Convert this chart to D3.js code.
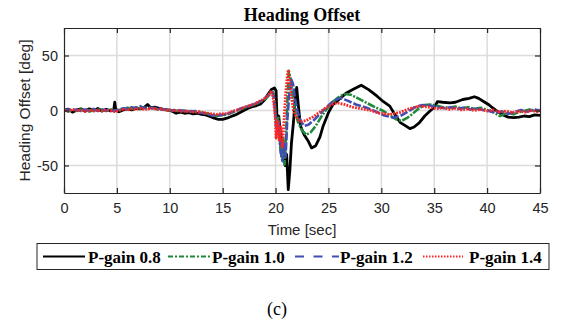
<!DOCTYPE html>
<html><head><meta charset="utf-8">
<script src="https://cdn.jsdelivr.net/npm/d3@7"></script>
<style>body{margin:0;background:#fff}</style>
</head><body><svg id="c" width="561" height="324"></svg>
<script>
const xTicks = [0,5,10,15,20,25,30,35,40,45];
const yTicks = [-50,0,50];
const seriesNames = ["P-gain 0.8","P-gain 1.0","P-gain 1.2","P-gain 1.4"];

const gain08 = [[0,0],[0.4,1.2],[0.8,-1.5],[1.2,0.5],[1.6,1.5],[2,-0.5],[2.4,1.5],[2.8,0],[3.2,1.8],[3.6,-0.5],[4,1],[4.4,-0.5],[4.7,0.5],[4.8,7.5],[4.9,0],[5.2,-1.2],[5.6,0.5],[6,1.5],[6.4,0.5],[6.8,2],[7.2,1.5],[7.6,3],[7.9,5.5],[8.2,2.5],[8.6,3],[9,2],[9.4,1],[9.8,0.5],[10.2,-0.5],[10.6,-2.5],[11,-1.5],[11.4,-2.5],[11.8,-2],[12.2,-3],[12.6,-2.5],[13,-3.5],[13.4,-4],[13.8,-5.5],[14.2,-7],[14.6,-8],[15,-8],[15.4,-7],[15.8,-5.5],[16.2,-4],[16.6,-2],[17,0],[17.4,2],[17.8,3.5],[18.2,4.5],[18.6,6],[19,10],[19.3,15],[19.6,19],[19.9,20.5],[20.05,18],[20.15,-10],[20.3,-5],[20.45,-20],[20.6,-35],[20.75,-30],[20.9,-50],[21.05,-40],[21.2,-72],[21.35,-55],[21.5,-30],[21.7,-10],[21.85,10],[22.0,21],[22.15,5],[22.35,-14],[22.7,-22],[23.1,-28],[23.4,-34],[23.8,-32],[24.2,-24],[24.5,-14],[25,-2],[25.4,5],[26,10],[26.7,16],[27.3,19],[28.1,23],[28.8,19],[29.6,13],[30.2,8],[30.8,4],[31.3,-4],[31.8,-11],[32.3,-14],[32.7,-16.5],[33.1,-15],[33.6,-11],[34.1,-5],[34.6,-0.5],[35,3],[35.3,8],[35.8,7.5],[36.5,7],[37,7.5],[37.7,10],[38.3,11],[38.8,12.5],[39.2,11],[39.7,8],[40.2,5],[40.5,2.5],[41,-1],[41.5,-4],[42,-6],[42.5,-6.5],[43,-6],[43.5,-5],[44,-5.5],[44.5,-4],[45,-4.5]];

const gain10 = [[0,0.5],[0.4,-1],[0.8,1],[1.2,-0.5],[1.6,1],[2,0],[2.4,-1],[2.8,0.5],[3.2,1],[3.6,0],[4,-0.5],[4.4,1],[4.8,0],[5.2,0.5],[5.6,1.5],[6,2.5],[6.4,1.5],[6.8,3],[7.2,2],[7.6,2.5],[8,1.5],[8.4,2.5],[8.8,1],[9.2,1.5],[9.6,0.5],[10,0],[10.4,0.5],[10.8,-0.5],[11.2,0],[11.6,-1],[12,-0.5],[12.4,-1],[12.8,-1.5],[13.2,-2],[13.6,-3],[14,-4],[14.4,-5],[14.8,-4.5],[15.2,-4],[15.6,-3],[16,-1.5],[16.4,0],[16.8,1.5],[17.2,3],[17.6,4],[18,5.5],[18.4,7],[18.8,9],[19.1,11],[19.4,14],[19.65,18],[19.8,16],[19.95,5],[20.1,-15],[20.25,-5],[20.4,-30],[20.55,-42],[20.7,-25],[20.85,-49],[21.0,-22],[21.12,10],[21.25,36],[21.4,30],[21.6,15],[21.8,2],[22.1,-10],[22.5,-18],[22.9,-22],[23.3,-20],[23.8,-14],[24.3,-6],[24.8,1],[25.3,7],[25.8,11],[26.3,14],[26.7,15],[27.2,14],[27.8,11],[28.6,7],[29.4,3],[30.2,-0.5],[30.9,-5],[31.4,-8],[31.9,-9.5],[32.4,-7],[32.9,-3.5],[33.5,1.5],[34.1,5],[34.6,5.5],[35.2,4.5],[35.8,3],[36.4,2.5],[37,3.5],[37.6,2],[38.2,3],[38.8,1.5],[39.4,2.5],[40,0.5],[40.6,-1.5],[41.2,-5],[41.6,-3.5],[42,-2],[42.5,-3.5],[43,-1.5],[43.5,-0.5],[44,1],[44.5,-0.5],[45,0.5]];

const gain12 = [[0,-0.5],[0.4,1],[0.8,0],[1.2,1],[1.6,-0.5],[2,1],[2.4,0],[2.8,1.5],[3.2,-0.5],[3.6,1],[4,0],[4.4,0.5],[4.8,-0.5],[5.2,1],[5.6,2],[6,1.5],[6.4,3],[6.8,2],[7.2,4],[7.6,2],[8,3],[8.4,2],[8.8,2.5],[9.2,1],[9.6,1],[10,0.5],[10.4,0],[10.8,0.5],[11.2,-0.5],[11.6,0],[12,-1],[12.4,-0.5],[12.8,-2],[13.2,-2.5],[13.6,-3.5],[14,-4.5],[14.4,-4.5],[14.8,-4],[15.2,-3.5],[15.6,-2.5],[16,-1],[16.4,0.5],[16.8,2],[17.2,3],[17.6,4.5],[18,6],[18.4,7.5],[18.8,9.5],[19.1,12],[19.4,15],[19.65,17],[19.8,14],[19.95,0],[20.1,-20],[20.3,-10],[20.5,-38],[20.65,-46],[20.8,-30],[20.95,-42],[21.1,-10],[21.3,15],[21.5,28],[21.65,24],[21.85,10],[22.1,-2],[22.4,-10],[22.7,-14],[23.1,-13],[23.6,-9],[24.2,-3],[24.8,3],[25.4,8],[26.1,11.5],[26.8,9],[27.6,5.5],[28.6,2.5],[29.5,-1],[30.3,-4.5],[31.1,-6.5],[31.8,-5],[32.5,-1],[33.2,3],[33.9,5],[34.6,4.5],[35.3,3],[36,2],[36.6,3],[37.2,1.5],[37.8,2.5],[38.4,1],[39,2],[39.6,0.5],[40.2,-0.5],[40.8,-2],[41.4,-1],[42,-3],[42.6,-1.5],[43.2,0.5],[43.8,-1],[44.4,1],[45,0]];

const gain14 = [[0,0],[0.4,-0.5],[0.8,1],[1.2,0],[1.6,0.5],[2,-1],[2.4,0.5],[2.8,-0.5],[3.2,0.5],[3.6,-0.5],[4,0.5],[4.4,0],[4.8,-1],[5.2,0],[5.6,1],[6,0.5],[6.4,1.5],[6.8,1],[7.2,2],[7.6,1],[8,1.5],[8.4,2],[8.8,1],[9.2,1.5],[9.6,0],[10,0.5],[10.4,-0.5],[10.8,0],[11.2,-1],[11.6,-0.5],[12,-1],[12.4,-1.5],[12.8,-1],[13.2,-2],[13.6,-2.5],[14,-3],[14.4,-3.5],[14.8,-3],[15.2,-3],[15.6,-2],[16,-0.5],[16.4,0.5],[16.8,2],[17.2,3.5],[17.6,4.5],[18,6],[18.4,8],[18.8,10],[19.1,12],[19.4,15],[19.6,18],[19.8,10],[19.95,-5],[20.05,-25],[20.2,-10],[20.35,-28],[20.5,-15],[20.65,-33],[20.8,-10],[20.95,15],[21.1,30],[21.2,37],[21.35,25],[21.5,12],[21.7,0],[21.9,-5],[22.2,-9],[22.5,-10],[22.9,-9],[23.5,-6],[24.1,-2],[24.7,2],[25.3,5.5],[25.8,7],[26.5,5.5],[27.3,3],[28.2,1.5],[29,0],[29.8,-2.5],[30.8,-3.5],[31.7,-2],[32.6,1.5],[33.6,4],[34.5,3],[35.2,1.5],[35.8,2.5],[36.4,1],[37,2],[37.6,0.5],[38.2,1.5],[38.8,0],[39.4,1],[40,-0.5],[40.6,0.5],[41.2,-1.5],[41.8,-0.5],[42.4,-2],[43,-0.5],[43.6,-1.5],[44.2,0],[44.8,-1],[45,0]];

const seriesData = [gain08, gain10, gain12, gain14];
const colors = ["#000000","#23883a","#3f4fb3","#ff2323"];
const plotDash = [null,"8,1.5,2,1.5","8,2","1.8,1.2"];
const plotWidth = [2.8,2.6,2.6,2.8];
const legendDash = [null,"5,2,2,2","9,9.5","1.5,1.5"];

const svg = d3.select("#c");
const L=64, R=540, T=28, B=193;
const x = d3.scaleLinear().domain([0,45]).range([L,R]);
const y = d3.scaleLinear().domain([-75,75]).range([B,T]);

svg.append("rect").attr("width",561).attr("height",324).attr("fill","#fff");

// grid
const g = svg.append("g");
g.selectAll(".gx").data(xTicks.slice(1,-1)).enter().append("line")
  .attr("x1",d=>x(d)).attr("x2",d=>x(d)).attr("y1",T).attr("y2",B)
  .attr("stroke","#dcdcdc").attr("stroke-width",1.5);
g.selectAll(".gy").data(yTicks).enter().append("line")
  .attr("x1",L).attr("x2",R).attr("y1",d=>y(d)).attr("y2",d=>y(d))
  .attr("stroke","#dcdcdc").attr("stroke-width",1.5);

// data
svg.append("clipPath").attr("id","clip").append("rect")
  .attr("x",L).attr("y",T).attr("width",R-L).attr("height",B-T);
const line = d3.line().x(d=>x(d[0])).y(d=>y(d[1]));
const pg = svg.append("g").attr("clip-path","url(#clip)");
seriesData.forEach((s,i)=>{
  pg.append("path").attr("d",line(s)).attr("fill","none")
    .attr("stroke",colors[i]).attr("stroke-width",plotWidth[i])
    .attr("stroke-linejoin","round")
    .attr("stroke-dasharray",plotDash[i]);
});

// axes
const axisColor="#262626";
const fmt = d=>String(d);
function styleAxis(sel){
  sel.select(".domain").attr("stroke",axisColor).attr("stroke-width",1.2);
  sel.selectAll(".tick line").attr("stroke",axisColor).attr("stroke-width",1.2);
  sel.selectAll(".tick text").attr("fill","#262626")
    .style("font-family","Liberation Sans, Arial, sans-serif").style("font-size","14.5px");
}
svg.append("g").attr("transform",`translate(0,${B})`)
  .call(d3.axisBottom(x).tickValues(xTicks).tickFormat(fmt).tickSizeInner(-5).tickSizeOuter(0).tickPadding(10))
  .call(styleAxis);
svg.append("g").attr("transform",`translate(0,${T})`)
  .call(d3.axisTop(x).tickValues(xTicks).tickSizeInner(-5).tickSizeOuter(0).tickFormat(""))
  .call(styleAxis);
svg.append("g").attr("transform",`translate(${L},0)`)
  .call(d3.axisLeft(y).tickValues(yTicks).tickFormat(fmt).tickSizeInner(-5).tickSizeOuter(0).tickPadding(6))
  .call(styleAxis);
svg.append("g").attr("transform",`translate(${R},0)`)
  .call(d3.axisRight(y).tickValues(yTicks).tickSizeInner(-5).tickSizeOuter(0).tickFormat(""))
  .call(styleAxis);

// labels
svg.append("text").attr("x",(L+R)/2).attr("y",21).attr("text-anchor","middle")
  .style("font-family","Liberation Serif, Times New Roman, serif").style("font-weight","bold")
  .style("font-size","18px").attr("fill","#000").text("Heading Offset");
svg.append("text").attr("x",(L+R)/2).attr("y",235).attr("text-anchor","middle")
  .style("font-family","Liberation Sans, Arial, sans-serif").style("font-size","15px")
  .attr("fill","#262626").text("Time [sec]");
svg.append("text").attr("transform",`translate(30,${(T+B)/2}) rotate(-90)`).attr("text-anchor","middle")
  .style("font-family","Liberation Sans, Arial, sans-serif").style("font-size","15.5px")
  .attr("fill","#262626").text("Heading Offset [deg]");

// legend
svg.append("rect").attr("x",37).attr("y",243.5).attr("width",512).attr("height",26)
  .attr("fill","#fff").attr("stroke","#262626").attr("stroke-width",1);
const legLineX = [[43,85],[168,211.5],[295,339],[423,463]];
const legTextX = [88,212,340,469];
seriesNames.forEach((n,i)=>{
  svg.append("line").attr("x1",legLineX[i][0]).attr("x2",legLineX[i][1])
    .attr("y1",256.5).attr("y2",256.5).attr("stroke",colors[i])
    .attr("stroke-width",2).attr("stroke-dasharray",legendDash[i]);
  svg.append("text").attr("x",legTextX[i]).attr("y",262.5)
    .style("font-family","Liberation Serif, Times New Roman, serif").style("font-weight","bold")
    .style("font-size","17px").attr("fill","#000").text(n);
});

svg.append("text").attr("x",277).attr("y",315).attr("text-anchor","middle")
  .style("font-family","Liberation Serif, Times New Roman, serif")
  .style("font-size","18px").attr("fill","#000").text("(c)");
</script></body></html>
